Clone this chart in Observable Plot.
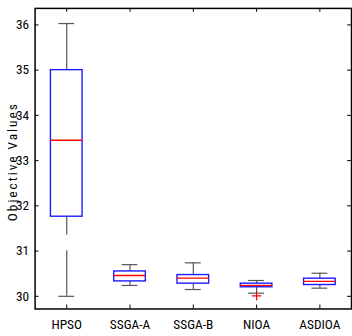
<!DOCTYPE html>
<html><head><meta charset="utf-8">
<script src="https://cdn.jsdelivr.net/npm/d3@7"></script>
<script src="https://cdn.jsdelivr.net/npm/@observablehq/plot@0.6"></script>
<style>
html,body{margin:0;padding:0;background:#fff;overflow:hidden;width:352px;height:336px;}
#chart svg{display:block;}
g[aria-label="text"] text{letter-spacing:2px;}
</style>
</head><body><div id="chart"></div>
<script>
const categories = ["HPSO", "SSGA-A", "SSGA-B", "NIOA", "ASDIOA"];
const whiskerLow  = [30.00, 30.24, 30.15, 30.07, 30.18];
const q1          = [31.76, 30.33, 30.28, 30.20, 30.25];
const medians     = [33.45, 30.46, 30.40, 30.24, 30.33];
const q3          = [35.00, 30.55, 30.47, 30.28, 30.39];
const whiskerHigh = [36.03, 30.70, 30.74, 30.35, 30.51];
const outlierCats = ["NIOA"];
const outlierVals = [30.01];
const yTicks = [30, 31, 32, 33, 34, 35, 36];

const boxes = categories.map((c, i) => ({
  cat: c, lo: whiskerLow[i], q1: q1[i], med: medians[i], q3: q3[i], hi: whiskerHigh[i]
}));
const outliers = outlierCats.map((c, i) => ({cat: c, v: outlierVals[i]}));

const W = 356, H = 336, mL = 35, mR = 1, mT = 8, mB = 24;
const pw = W - mL - mR, ph = H - mT - mB;
const font = "'Roboto Condensed', 'DejaVu Sans Condensed', sans-serif";
const whiskerColor = "#555";

const chart = Plot.plot({
  width: W, height: H,
  marginLeft: mL, marginRight: mR, marginTop: mT, marginBottom: mB,
  style: {fontFamily: font, fontSize: "13.5px", background: "#fff", color: "#000"},
  x: {type: "band", domain: categories, paddingInner: 0.5, paddingOuter: 0.25, label: null},
  y: {domain: [29.72, 36.365], label: null},
  marks: [
    Plot.ruleX(boxes, {x: "cat", y1: "q3", y2: "hi", stroke: whiskerColor, strokeWidth: 1.2}),
    Plot.ruleX(boxes.filter(d => d.cat !== "HPSO"), {x: "cat", y1: "q1", y2: "lo", stroke: whiskerColor, strokeWidth: 1.2}),
    Plot.ruleX(boxes.filter(d => d.cat === "HPSO"), {x: "cat", y1: "q1", y2: "lo", stroke: whiskerColor, strokeWidth: 1.2, strokeDasharray: "18.5,16,200"}),
    Plot.tickY(boxes, {x: "cat", y: "hi", stroke: whiskerColor, strokeWidth: 1.2, insetLeft: 8, insetRight: 8}),
    Plot.tickY(boxes, {x: "cat", y: "lo", stroke: whiskerColor, strokeWidth: 1.2, insetLeft: 8, insetRight: 8}),
    Plot.barY(boxes, {x: "cat", y1: "q1", y2: "q3", fill: "white", stroke: "#1a1aff", strokeWidth: 1.4}),
    Plot.tickY(boxes, {x: "cat", y: "med", stroke: "#ff0000", strokeWidth: 1.3}),
    Plot.dot(outliers, {x: "cat", y: "v", symbol: "plus", r: 3.2, stroke: "#ff0000", strokeWidth: 1.2}),
    Plot.frame({stroke: "#000", strokeWidth: 1.5}),
    Plot.tickY(yTicks, {y: d => d, insetRight: pw - 4, stroke: "#000"}),
    Plot.tickY(yTicks, {y: d => d, insetLeft: pw - 4, stroke: "#000"}),
    Plot.tickX(categories, {x: d => d, insetBottom: ph - 4, stroke: "#000"}),
    Plot.tickX(categories, {x: d => d, insetTop: ph - 4, stroke: "#000"}),
    Plot.axisY(yTicks, {anchor: "left", tickSize: 0, tickPadding: 6, fontSize: 13.5}),
    Plot.axisX(categories, {anchor: "bottom", tickSize: 0, tickPadding: 11, fontSize: 13.5}),
    Plot.text(["Objective Values"], {frameAnchor: "left", textAnchor: "middle", rotate: -90, dx: -23, dy: 3, fontSize: 13.5, fill: "#000"})
  ]
});
document.getElementById("chart").appendChild(chart);
</script>
</body></html>
